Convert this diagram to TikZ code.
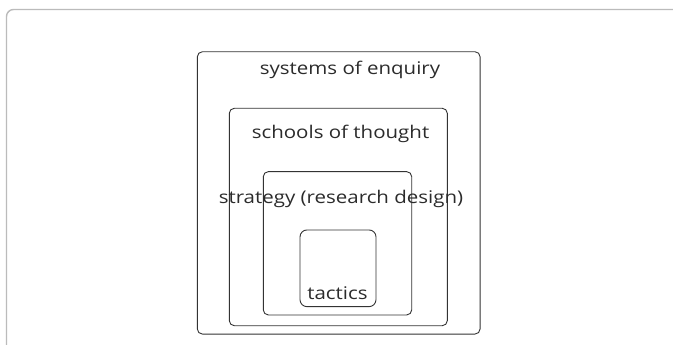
\documentclass[tikz,border=0pt]{standalone}
\usepackage{fontspec}
\setmainfont{Open Sans}[FakeStretch=1.17]
\usepackage{xcolor}
\usepackage{tikz}
\usetikzlibrary{positioning}
\definecolor{linegray}{HTML}{333333}
\definecolor{framegray}{HTML}{BBBBBB}
\definecolor{textdark}{HTML}{2B2B2B}
\tikzset{
  layer/.style={draw=linegray, line width=0.9pt, rounded corners=5pt, inner sep=0pt},
  layertext/.style={text=textdark, font=\fontsize{17.5}{20}\selectfont, inner sep=0pt, anchor=base}
}

\begin{document}
\begin{tikzpicture}[x=1pt, y=-1pt]
    \useasboundingbox (0,0) rectangle (673,345);
    % page frame
    \draw[framegray, line width=1.4pt, rounded corners=7pt] (6.5,360) -- (6.5,9.5) -- (690,9.5);

    \node[layer, minimum width=282.7pt, minimum height=282.3pt] (enquiry) at (338.7,192.9) {};
    \node[layer, minimum width=218pt, minimum height=217.4pt] (thought) at (338.3,217) {};
    \node[layer, minimum width=148.4pt, minimum height=143.3pt] (design) at (337.5,243.3) {};
    \node[layer, rounded corners=7pt, minimum width=76pt, minimum height=76.7pt] (tactics) at (338,268.3) {};

    \node[layertext] (enquirylbl) at (350,75) {systems of enquiry};
    \node[layertext] (thoughtlbl) at (340.5,139) {schools of thought};
    \node[layertext] (designlbl) at (341,203) {strategy (research design)};
    \node[layertext] (tacticslbl) at (337.5,299) {tactics};
\end{tikzpicture}
\end{document}
